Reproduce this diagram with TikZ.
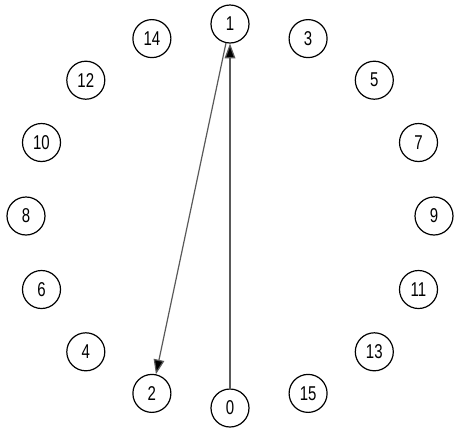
\documentclass[tikz,border=0pt]{standalone}
\usepackage{fontspec}
\setmainfont{Liberation Sans}[FakeStretch=0.75]
\usetikzlibrary{arrows.meta}

\begin{document}
\begin{tikzpicture}[x=0.75pt,y=-0.75pt,
  every node/.style={font=\fontsize{15}{15}\selectfont},
  vtx/.style={draw,circle,line width=.9pt,minimum size=28.5pt,inner sep=0pt},
  conn/.style={draw=black!65,line width=.9pt,-{Triangle[length=11pt,width=8pt,fill=black]}}]
\useasboundingbox (0,0) rectangle (454,429);
\node[vtx] (n1) at (230.0,24.0) {1};
\node[vtx] (n3) at (308.1,38.6) {3};
\node[vtx] (n5) at (374.3,80.2) {5};
\node[vtx] (n7) at (418.5,142.5) {7};
\node[vtx] (n9) at (434.0,216.0) {9};
\node[vtx] (n11) at (418.5,289.5) {11};
\node[vtx] (n13) at (374.3,351.8) {13};
\node[vtx] (n15) at (308.1,393.4) {15};
\node[vtx] (n0) at (230.0,408.0) {0};
\node[vtx] (n2) at (151.9,393.4) {2};
\node[vtx] (n4) at (85.8,351.8) {4};
\node[vtx] (n6) at (41.5,289.5) {6};
\node[vtx] (n8) at (26.0,216.0) {8};
\node[vtx] (n10) at (41.5,142.5) {10};
\node[vtx] (n12) at (85.8,80.2) {12};
\node[vtx] (n14) at (151.9,38.6) {14};
\draw[conn] (n0)--(n1);
\draw[conn] (n1)--(n2);
\end{tikzpicture}
\end{document}
